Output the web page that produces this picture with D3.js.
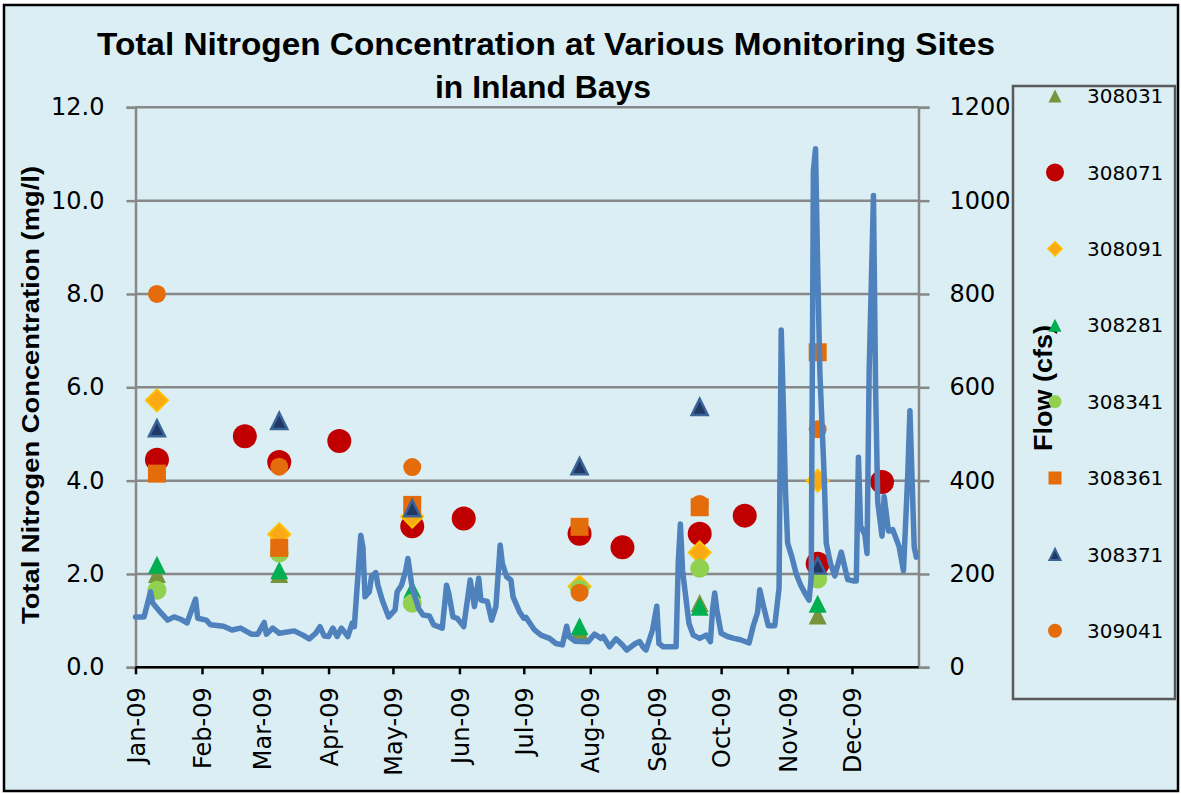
<!DOCTYPE html>
<html><head><meta charset="utf-8">
<script src="https://cdn.jsdelivr.net/npm/d3@7"></script>
<style>body{margin:0;background:#fff;}</style>
</head><body>
<svg id="chart" width="1181" height="794"></svg>
<script>
// ---------------- DATA ----------------
const sites = ["308031","308071","308091","308281","308341","308361","308371","309041"];
const sampleDates = ["2009-01-11","2009-02-21","2009-03-09","2009-04-06","2009-05-10","2009-06-03",
                     "2009-07-27","2009-08-16","2009-09-21","2009-10-12","2009-11-15","2009-12-15"];
const tn308031 = [2.00, null, 2.00, null, 1.60, null, 0.78, null, 1.38, null, 1.11, null];
const tn308071 = [4.45, 4.95, 4.40, 4.85, 3.02, 3.19, 2.86, 2.57, 2.86, 3.25, 2.22, 3.97];
const tn308091 = [5.72, null, 2.85, null, 3.23, null, 1.73, null, 2.46, null, 4.00, null];
const tn308281 = [2.20, null, 2.08, null, 1.67, null, 0.88, null, 1.30, null, 1.36, null];
const tn308341 = [1.65, null, 2.45, null, 1.37, null, 1.68, null, 2.12, null, 1.89, null];
const tn308361 = [4.15, null, 2.56, null, 3.48, null, 3.01, null, 3.43, null, 6.75, null];
const tn308371 = [5.12, null, 5.28, null, 3.41, null, 4.31, null, 5.58, null, 2.18, null];
const tn309041 = [8.00, null, 4.30, null, 4.29, null, 1.60, null, 3.50, null, 5.10, null];

// daily flow (cfs), day offset from 1 Jan 2009
const flowDays = [0,4,7,8,12,15,18,21,24,28,29,33,35,41,45,49,54,57,60,61,64,67,74,78,81,84,86,88,90,92,94,96,99,
  101,102,105,106,107,109,110,112,113,115,118,121,122,124,126,127,129,132,134,137,139,143,145,146,148,150,153,156,
  158,160,161,164,166,168,170,171,173,175,176,179,181,182,186,189,193,196,199,201,202,205,211,214,217,218,221,224,
  227,229,233,235,237,238,241,243,244,246,252,253,254,255,258,260,263,266,268,269,270,271,273,276,279,282,286,288,
  290,291,293,295,298,300,301,302,303,304,306,308,310,312,314,315,316,317,318,319,321,322,324,326,329,331,332,335,
  336,337,338,340,341,342,344,345,346,348,349,351,353,356,358,360,361,363,364];
const flowCfs = [108,108,162,138,116,101,108,103,95,146,105,101,91,88,80,84,71,71,96,71,84,73,78,69,61,73,87,67,66,84,66,84,66,
  95,87,283,258,151,162,194,203,176,144,108,123,162,176,208,233,169,126,112,110,91,84,176,159,108,105,87,187,
  130,191,144,141,101,130,262,223,194,187,151,119,105,107,80,69,62,51,48,88,66,56,55,71,62,66,44,61,
  48,37,51,55,41,37,80,131,51,44,44,223,307,208,94,69,62,69,55,123,159,123,73,66,62,59,52,89,
  118,166,126,89,89,170,723,561,376,266,236,200,177,159,144,192,1063,1111,856,635,413,266,222,196,247,207,188,185,
  185,450,303,284,244,635,1011,598,354,281,366,292,295,258,207,413,550,258,236];

const monthLabels = ["Jan-09","Feb-09","Mar-09","Apr-09","May-09","Jun-09","Jul-09","Aug-09","Sep-09","Oct-09","Nov-09","Dec-09"];
const leftTicks = [0, 2, 4, 6, 8, 10, 12];
const rightTicks = [0, 200, 400, 600, 800, 1000, 1200];

// ---------------- STYLE ----------------
const tnSeries = [tn308031, tn308071, tn308091, tn308281, tn308341, tn308361, tn308371, tn309041];
const markerStyle = [
  {shape:"triangle", size:18, lsize:13, fill:"#77933C", stroke:"none", sw:0},
  {shape:"circle",   size:24, lsize:18, fill:"#C00000", stroke:"none", sw:0},
  {shape:"diamond",  size:22, lsize:14, fill:"#F9A914", stroke:"#FFC000", sw:2},
  {shape:"triangle", size:18, lsize:13, fill:"#00B050", stroke:"none", sw:0},
  {shape:"circle",   size:19, lsize:13, fill:"#92D050", stroke:"none", sw:0},
  {shape:"square",   size:18, lsize:13, fill:"#E46C0A", stroke:"none", sw:0},
  {shape:"triangle", size:16, lsize:11, fill:"#1F3864", stroke:"#3A6398", sw:2.5},
  {shape:"circle",   size:18, lsize:14, fill:"#E46C0A", stroke:"none", sw:0}
];
function shapePath(shape, s){
  const h = s/2;
  if (shape === "triangle") return `M0,${-h}L${h},${h}L${-h},${h}Z`;
  if (shape === "square") return `M${-h},${-h}H${h}V${h}H${-h}Z`;
  if (shape === "diamond") return `M0,${-h}L${h},0L0,${h}L${-h},0Z`;
  return `M${h},0A${h},${h} 0 1,1 ${-h},0A${h},${h} 0 1,1 ${h},0Z`;
}

const W = 1181, H = 794;
const plot = {left:135.5, right:918.5, top:107.3, bottom:667.3};
const svg = d3.select("#chart");
const tickFont = "'DejaVu Sans', Verdana, sans-serif";
const boldFont = "'Liberation Sans Narrow', 'Liberation Sans', Arial, sans-serif";

svg.append("rect").attr("x",0).attr("y",0).attr("width",W).attr("height",H).attr("fill","#ffffff");
svg.append("rect").attr("x",4).attr("y",5).attr("width",1174).attr("height",786)
  .attr("fill","#DBEEF4").attr("stroke","#000").attr("stroke-width",2.5);

const parse = d3.utcParse("%Y-%m-%d");
const t0 = Date.UTC(2009,0,1);
const x = d3.scaleUtc().domain([new Date(t0), new Date(Date.UTC(2010,0,1))]).range([plot.left, plot.right]);
const yL = d3.scaleLinear().domain([0,12]).range([plot.bottom, plot.top]);
const yR = d3.scaleLinear().domain([0,1200]).range([plot.bottom, plot.top]);

// gridlines
svg.append("g").selectAll("line").data(leftTicks).join("line")
  .attr("x1",plot.left).attr("x2",plot.right)
  .attr("y1",d=>yL(d)).attr("y2",d=>yL(d))
  .attr("stroke","#888888").attr("stroke-width",2.5);

// left axis
const gL = svg.append("g").attr("transform",`translate(${plot.left},0)`)
  .call(d3.axisLeft(yL).tickValues(leftTicks).tickFormat(d3.format(".1f")).tickSize(9).tickPadding(22));
gL.select(".domain").attr("stroke","#888888").attr("stroke-width",2.5);
gL.selectAll(".tick line").attr("stroke","#888888").attr("stroke-width",2.5);
gL.selectAll("text").attr("font-family",tickFont).attr("font-size",24).attr("fill","#000");

// right axis
const gR = svg.append("g").attr("transform",`translate(${plot.right},0)`)
  .call(d3.axisRight(yR).tickValues(rightTicks).tickFormat(d3.format("d")).tickSize(11).tickPadding(20));
gR.select(".domain").attr("stroke","#888888").attr("stroke-width",2.5);
gR.selectAll(".tick line").attr("stroke","#888888").attr("stroke-width",2.5);
gR.selectAll("text").attr("font-family",tickFont).attr("font-size",24).attr("fill","#000");

// bottom axis
const monthStarts = monthLabels.map((m,i)=>new Date(Date.UTC(2009,i,1)));
const gB = svg.append("g").attr("transform",`translate(0,${plot.bottom})`)
  .call(d3.axisBottom(x).tickValues(monthStarts).tickFormat((d,i)=>monthLabels[i]).tickSize(7));
gB.select(".domain").attr("stroke","#000").attr("stroke-width",2.5).attr("d",`M${plot.left},0H${plot.right}`);
gB.selectAll(".tick line").attr("stroke","#000").attr("stroke-width",2.5);
gB.selectAll("text").attr("font-family",tickFont).attr("font-size",24).attr("fill","#000")
  .attr("transform","rotate(-90)").attr("text-anchor","end")
  .attr("x",-20).attr("y",0).attr("dy","0.36em");

// markers
const markersG = svg.append("g");
tnSeries.forEach((vals,si)=>{
  const st = markerStyle[si];
  const pts = sampleDates.map((d,i)=>({date:parse(d), v:vals[i]})).filter(p=>p.v!==null);
  markersG.append("g").selectAll("path").data(pts).join("path")
    .attr("d", shapePath(st.shape, st.size))
    .attr("transform", p=>`translate(${x(p.date)},${yL(p.v)})`)
    .attr("fill", st.fill).attr("stroke", st.stroke).attr("stroke-width", st.sw);
});

// flow line
const flowData = flowDays.map((d,i)=>({date:new Date(t0 + d*86400000), v:flowCfs[i]}));
svg.append("path").datum(flowData)
  .attr("d", d3.line().x(p=>x(p.date)).y(p=>yR(p.v)))
  .attr("fill","none").attr("stroke","#4F81BD").attr("stroke-width",5.5)
  .attr("stroke-linejoin","round").attr("stroke-linecap","round");

// titles
svg.append("text").attr("x",546).attr("y",55).attr("text-anchor","middle")
  .attr("font-family",boldFont).attr("font-weight","bold").attr("font-size",32)
  .attr("textLength",898).attr("lengthAdjust","spacingAndGlyphs")
  .text("Total Nitrogen Concentration at Various Monitoring Sites");
svg.append("text").attr("x",543).attr("y",98).attr("text-anchor","middle")
  .attr("font-family",boldFont).attr("font-weight","bold").attr("font-size",32)
  .attr("textLength",216).attr("lengthAdjust","spacingAndGlyphs")
  .text("in Inland Bays");

svg.append("text").attr("transform","translate(38.5,395) rotate(-90)").attr("text-anchor","middle")
  .attr("font-family",boldFont).attr("font-weight","bold").attr("font-size",24)
  .attr("textLength",458).attr("lengthAdjust","spacingAndGlyphs")
  .text("Total Nitrogen Concentration  (mg/l)");

// legend
const legend = {x:1013, y:86, w:162, h:613};
svg.append("rect").attr("x",legend.x).attr("y",legend.y).attr("width",legend.w).attr("height",legend.h)
  .attr("fill","none").attr("stroke","#595959").attr("stroke-width",2.5);

svg.append("text").attr("transform","translate(1052,388) rotate(-90)").attr("text-anchor","middle")
  .attr("font-family",boldFont).attr("font-weight","bold").attr("font-size",26)
  .attr("textLength",126).attr("lengthAdjust","spacingAndGlyphs")
  .text("Flow (cfs)");

const lg = svg.append("g");
sites.forEach((s,i)=>{
  const st = markerStyle[i];
  const cy = 96 + i*76.4;
  lg.append("path").attr("d", shapePath(st.shape, st.lsize))
    .attr("transform",`translate(1055,${cy})`)
    .attr("fill",st.fill).attr("stroke",st.stroke).attr("stroke-width",st.sw*0.8);
  lg.append("text").attr("x",1087).attr("y",cy).attr("dy","0.36em")
    .attr("font-family",tickFont).attr("font-size",20).attr("fill","#000").text(s);
});
</script>
</body></html>
